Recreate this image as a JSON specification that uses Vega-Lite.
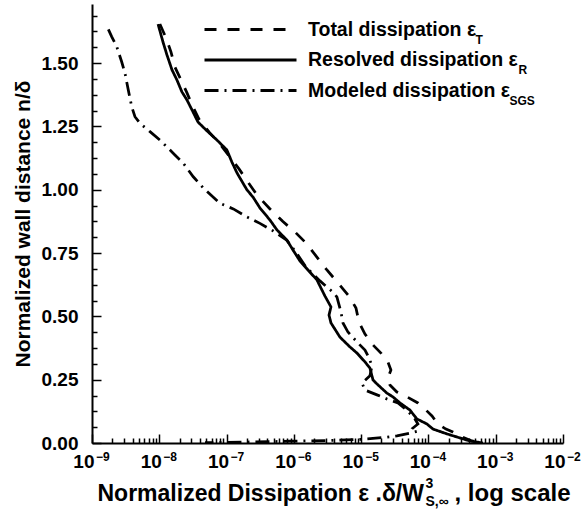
{
  "$schema": "https://vega.github.io/schema/vega-lite/v6.json",
  "width": 471,
  "height": 439,
  "autosize": "none",
  "padding": {"left": 92, "top": 4, "right": 20, "bottom": 67},
  "background": "white",
  "config": {
    "view": {"stroke": null},
    "font": "Liberation Sans",
    "axis": {"domainColor": "black", "tickColor": "black", "labelColor": "black", "titleColor": "black", "grid": false},
    "legend": {"labelColor": "black"}
  },
  "resolve": {"axis": {"x": "independent", "y": "independent"}},
  "layer": [
    {
      "data": {"values": [
        {"s": "Resolved", "x": 9.57e-9, "y": 1.654},
        {"s": "Resolved", "x": 1.135e-8, "y": 1.583},
        {"s": "Resolved", "x": 1.30e-8, "y": 1.532},
        {"s": "Resolved", "x": 1.545e-8, "y": 1.473},
        {"s": "Resolved", "x": 1.83e-8, "y": 1.433},
        {"s": "Resolved", "x": 2.17e-8, "y": 1.386},
        {"s": "Resolved", "x": 2.58e-8, "y": 1.354},
        {"s": "Resolved", "x": 3.17e-8, "y": 1.307},
        {"s": "Resolved", "x": 3.76e-8, "y": 1.267},
        {"s": "Resolved", "x": 5.12e-8, "y": 1.232},
        {"s": "Resolved", "x": 7.19e-8, "y": 1.196},
        {"s": "Resolved", "x": 1.01e-7, "y": 1.157},
        {"s": "Resolved", "x": 1.20e-7, "y": 1.109},
        {"s": "Resolved", "x": 1.43e-7, "y": 1.066},
        {"s": "Resolved", "x": 2.01e-7, "y": 0.999},
        {"s": "Resolved", "x": 2.47e-7, "y": 0.971},
        {"s": "Resolved", "x": 3.13e-7, "y": 0.928},
        {"s": "Resolved", "x": 4.42e-7, "y": 0.880},
        {"s": "Resolved", "x": 5.61e-7, "y": 0.841},
        {"s": "Resolved", "x": 7.88e-7, "y": 0.801},
        {"s": "Resolved", "x": 9.70e-7, "y": 0.762},
        {"s": "Resolved", "x": 1.23e-6, "y": 0.719},
        {"s": "Resolved", "x": 1.62e-6, "y": 0.683},
        {"s": "Resolved", "x": 2.20e-6, "y": 0.644},
        {"s": "Resolved", "x": 2.90e-6, "y": 0.580},
        {"s": "Resolved", "x": 3.56e-6, "y": 0.537},
        {"s": "Resolved", "x": 3.33e-6, "y": 0.505},
        {"s": "Resolved", "x": 3.56e-6, "y": 0.474},
        {"s": "Resolved", "x": 4.84e-6, "y": 0.418},
        {"s": "Resolved", "x": 6.83e-6, "y": 0.379},
        {"s": "Resolved", "x": 8.67e-6, "y": 0.355},
        {"s": "Resolved", "x": 1.14e-5, "y": 0.320},
        {"s": "Resolved", "x": 1.35e-5, "y": 0.296},
        {"s": "Resolved", "x": 1.50e-5, "y": 0.249},
        {"s": "Resolved", "x": 1.72e-5, "y": 0.233},
        {"s": "Resolved", "x": 2.41e-5, "y": 0.197},
        {"s": "Resolved", "x": 2.97e-5, "y": 0.182},
        {"s": "Resolved", "x": 3.78e-5, "y": 0.158},
        {"s": "Resolved", "x": 5.31e-5, "y": 0.130},
        {"s": "Resolved", "x": 6.74e-5, "y": 0.095},
        {"s": "Resolved", "x": 9.51e-5, "y": 0.075},
        {"s": "Resolved", "x": 1.17e-4, "y": 0.055},
        {"s": "Resolved", "x": 1.88e-4, "y": 0.036},
        {"s": "Resolved", "x": 2.94e-4, "y": 0.020},
        {"s": "Resolved", "x": 4.14e-4, "y": 0.008},
        {"s": "Resolved", "x": 6.46e-4, "y": 0.0},
        {"s": "Total", "x": 1.02e-8, "y": 1.654},
        {"s": "Total", "x": 1.26e-8, "y": 1.599},
        {"s": "Total", "x": 1.49e-8, "y": 1.544},
        {"s": "Total", "x": 1.71e-8, "y": 1.484},
        {"s": "Total", "x": 2.10e-8, "y": 1.433},
        {"s": "Total", "x": 2.58e-8, "y": 1.382},
        {"s": "Total", "x": 3.17e-8, "y": 1.326},
        {"s": "Total", "x": 3.89e-8, "y": 1.279},
        {"s": "Total", "x": 5.47e-8, "y": 1.228},
        {"s": "Total", "x": 7.98e-8, "y": 1.180},
        {"s": "Total", "x": 1.12e-7, "y": 1.129},
        {"s": "Total", "x": 1.53e-7, "y": 1.082},
        {"s": "Total", "x": 2.08e-7, "y": 1.030},
        {"s": "Total", "x": 2.83e-7, "y": 0.979},
        {"s": "Total", "x": 4.42e-7, "y": 0.924},
        {"s": "Total", "x": 6.88e-7, "y": 0.874},
        {"s": "Total", "x": 1.04e-6, "y": 0.833},
        {"s": "Total", "x": 1.51e-6, "y": 0.790},
        {"s": "Total", "x": 2.20e-6, "y": 0.734},
        {"s": "Total", "x": 3.10e-6, "y": 0.683},
        {"s": "Total", "x": 4.52e-6, "y": 0.632},
        {"s": "Total", "x": 6.59e-6, "y": 0.580},
        {"s": "Total", "x": 8.38e-6, "y": 0.533},
        {"s": "Total", "x": 9.27e-6, "y": 0.478},
        {"s": "Total", "x": 1.14e-5, "y": 0.430},
        {"s": "Total", "x": 1.50e-5, "y": 0.387},
        {"s": "Total", "x": 1.97e-5, "y": 0.355},
        {"s": "Total", "x": 2.50e-5, "y": 0.320},
        {"s": "Total", "x": 2.77e-5, "y": 0.288},
        {"s": "Total", "x": 2.50e-5, "y": 0.257},
        {"s": "Total", "x": 2.68e-5, "y": 0.229},
        {"s": "Total", "x": 3.40e-5, "y": 0.201},
        {"s": "Total", "x": 4.80e-5, "y": 0.182},
        {"s": "Total", "x": 6.98e-5, "y": 0.158},
        {"s": "Total", "x": 8.87e-5, "y": 0.134},
        {"s": "Total", "x": 1.13e-4, "y": 0.107},
        {"s": "Total", "x": 1.38e-4, "y": 0.075},
        {"s": "Total", "x": 1.82e-4, "y": 0.055},
        {"s": "Total", "x": 2.31e-4, "y": 0.043},
        {"s": "Total", "x": 3.15e-4, "y": 0.024},
        {"s": "Total", "x": 4.42e-4, "y": 0.008},
        {"s": "Total", "x": 6.68e-4, "y": 0.0},
        {"s": "Modeled", "x": 1.75e-9, "y": 1.633},
        {"s": "Modeled", "x": 1.96e-9, "y": 1.604},
        {"s": "Modeled", "x": 2.33e-9, "y": 1.565},
        {"s": "Modeled", "x": 2.76e-9, "y": 1.505},
        {"s": "Modeled", "x": 3.09e-9, "y": 1.460},
        {"s": "Modeled", "x": 3.46e-9, "y": 1.394},
        {"s": "Modeled", "x": 3.89e-9, "y": 1.328},
        {"s": "Modeled", "x": 4.35e-9, "y": 1.288},
        {"s": "Modeled", "x": 5.16e-9, "y": 1.262},
        {"s": "Modeled", "x": 7.28e-9, "y": 1.229},
        {"s": "Modeled", "x": 1.02e-8, "y": 1.196},
        {"s": "Modeled", "x": 1.61e-8, "y": 1.144},
        {"s": "Modeled", "x": 2.28e-8, "y": 1.104},
        {"s": "Modeled", "x": 3.20e-8, "y": 1.051},
        {"s": "Modeled", "x": 4.51e-8, "y": 1.007},
        {"s": "Modeled", "x": 7.98e-8, "y": 0.946},
        {"s": "Modeled", "x": 1.26e-7, "y": 0.924},
        {"s": "Modeled", "x": 1.99e-7, "y": 0.893},
        {"s": "Modeled", "x": 3.13e-7, "y": 0.867},
        {"s": "Modeled", "x": 4.94e-7, "y": 0.837},
        {"s": "Modeled", "x": 7.81e-7, "y": 0.801},
        {"s": "Modeled", "x": 1.07e-6, "y": 0.754},
        {"s": "Modeled", "x": 1.51e-6, "y": 0.695},
        {"s": "Modeled", "x": 2.44e-6, "y": 0.640},
        {"s": "Modeled", "x": 3.94e-6, "y": 0.592},
        {"s": "Modeled", "x": 4.37e-6, "y": 0.576},
        {"s": "Modeled", "x": 5.01e-6, "y": 0.517},
        {"s": "Modeled", "x": 5.37e-6, "y": 0.474},
        {"s": "Modeled", "x": 6.37e-6, "y": 0.438},
        {"s": "Modeled", "x": 8.95e-6, "y": 0.395},
        {"s": "Modeled", "x": 1.14e-5, "y": 0.367},
        {"s": "Modeled", "x": 1.31e-5, "y": 0.336},
        {"s": "Modeled", "x": 1.45e-5, "y": 0.304},
        {"s": "Modeled", "x": 1.35e-5, "y": 0.265},
        {"s": "Modeled", "x": 1.03e-5, "y": 0.237},
        {"s": "Modeled", "x": 1.14e-5, "y": 0.209},
        {"s": "Modeled", "x": 1.72e-5, "y": 0.190},
        {"s": "Modeled", "x": 2.41e-5, "y": 0.174},
        {"s": "Modeled", "x": 3.53e-5, "y": 0.158},
        {"s": "Modeled", "x": 4.95e-5, "y": 0.126},
        {"s": "Modeled", "x": 6.30e-5, "y": 0.095},
        {"s": "Modeled", "x": 6.98e-5, "y": 0.075},
        {"s": "Modeled", "x": 5.89e-5, "y": 0.059},
        {"s": "Modeled", "x": 6.98e-5, "y": 0.047},
        {"s": "Modeled", "x": 5.31e-5, "y": 0.039},
        {"s": "Modeled", "x": 3.40e-5, "y": 0.028},
        {"s": "Modeled", "x": 2.26e-5, "y": 0.022},
        {"s": "Modeled", "x": 1.50e-5, "y": 0.018},
        {"s": "Modeled", "x": 9.6e-6, "y": 0.014},
        {"s": "Modeled", "x": 3.44e-6, "y": 0.010},
        {"s": "Modeled", "x": 8.75e-7, "y": 0.007},
        {"s": "Modeled", "x": 2.23e-7, "y": 0.004},
        {"s": "Modeled", "x": 4.78e-8, "y": 0.0015}
      ]},
      "mark": {"type": "line", "color": "black", "strokeWidth": 2.75, "clip": true},
      "encoding": {
        "x": {
          "field": "x", "type": "quantitative",
          "scale": {"type": "log", "domain": [1e-9, 1e-2], "nice": false},
          "axis": {
            "orient": "bottom",
            "values": [1e-9, 1e-8, 1e-7, 1e-6, 1e-5, 1e-4, 1e-3, 1e-2],
            "labelExpr": "'10'",
            "labelAlign": "right", "labelOffset": 2, "labelBaseline": "top",
            "labelFontSize": 19, "labelFontWeight": "bold", "labelPadding": 18,
            "labelFlush": false, "labelOverlap": false,
            "tickSize": -9, "tickWidth": 1.5, "domainWidth": 2,
            "title": "Normalized Dissipation ε .δ/W",
            "titleFontSize": 23, "titleFontWeight": "bold",
            "titleAlign": "left", "titleAnchor": "start", "titleBaseline": "alphabetic",
            "titleX": 5, "titleY": 57
          }
        },
        "y": {
          "field": "y", "type": "quantitative",
          "scale": {"domain": [0, 1.733], "nice": false, "zero": false},
          "axis": {
            "orient": "left",
            "values": [0, 0.25, 0.5, 0.75, 1, 1.25, 1.5],
            "format": ".2f",
            "labelFontSize": 19, "labelFontWeight": "bold", "labelPadding": 23,
            "labelFlush": false, "labelOverlap": false,
            "tickSize": -9, "tickWidth": 1.5, "domainWidth": 2,
            "title": "Normalized wall distance n/δ",
            "titleFontSize": 21, "titleFontWeight": "bold",
            "titleBaseline": "middle", "titleX": -69
          }
        },
        "strokeDash": {
          "field": "s", "type": "nominal",
          "scale": {"domain": ["Total", "Resolved", "Modeled"], "range": [[12, 11], [1, 0], [14, 6, 2, 6]]},
          "legend": {
            "orient": "none", "legendX": 145.5, "legendY": 12.5,
            "title": null, "padding": 0,
            "symbolType": "M-4,0H4", "symbolSize": 529, "symbolStrokeWidth": 3,
            "symbolStrokeColor": "black", "symbolFillColor": "transparent",
            "labelOffset": 44.5, "labelFontSize": 19.5, "labelFontWeight": "bold", "labelLimit": 400,
            "rowPadding": 7.5,
            "labelExpr": "datum.label == 'Total' ? 'Total dissipation ε' : datum.label == 'Resolved' ? 'Resolved dissipation ε' : 'Modeled dissipation ε'"
          }
        },
        "order": {"field": "y", "sort": "descending"}
      }
    },
    {
      "data": {"values": []},
      "mark": {"type": "point"},
      "encoding": {
        "x": {
          "field": "x", "type": "quantitative",
          "axis": {
            "orient": "bottom",
            "values": [1e-9, 1e-8, 1e-7, 1e-6, 1e-5, 1e-4, 1e-3, 1e-2],
            "labelExpr": "'−' + round(-log(datum.value) / LN10)",
            "labelAlign": "left", "labelOffset": 3.5, "labelBaseline": "top",
            "labelFontSize": 12, "labelFontWeight": "bold", "labelPadding": 8,
            "labelFlush": false, "labelOverlap": false,
            "ticks": false, "domain": false,
            "title": "3", "titleFontSize": 14, "titleFontWeight": "bold",
            "titleAlign": "left", "titleAnchor": "start", "titleBaseline": "alphabetic",
            "titleX": 333, "titleY": 44
          }
        },
        "y": {
          "field": "y", "type": "quantitative",
          "axis": {
            "orient": "left",
            "values": [0.0625, 0.125, 0.1875, 0.3125, 0.375, 0.4375, 0.5625, 0.625, 0.6875, 0.8125, 0.875, 0.9375, 1.0625, 1.125, 1.1875, 1.3125, 1.375, 1.4375, 1.5625, 1.625, 1.6875],
            "labels": false, "tickSize": -5, "tickWidth": 1.5, "domain": false, "title": null
          }
        },
        "color": {
          "field": "s", "type": "nominal",
          "scale": {"domain": ["T"], "range": ["black"]},
          "legend": {
            "orient": "none", "legendX": 314, "legendY": 23,
            "title": null, "padding": 0,
            "symbolType": "M-4,0H4", "symbolSize": 529, "symbolOpacity": 0,
            "labelOffset": 44.5, "labelFontSize": 12, "labelFontWeight": "bold", "labelLimit": 400
          }
        },
        "fill": {
          "field": "s", "type": "nominal",
          "scale": {"domain": ["R"], "range": ["black"]},
          "legend": {
            "orient": "none", "legendX": 357, "legendY": 53.5,
            "title": null, "padding": 0,
            "symbolType": "M-4,0H4", "symbolSize": 529, "symbolOpacity": 0,
            "labelOffset": 44.5, "labelFontSize": 12, "labelFontWeight": "bold", "labelLimit": 400
          }
        },
        "shape": {
          "field": "s", "type": "nominal",
          "scale": {"domain": ["SGS"], "range": ["circle"]},
          "legend": {
            "orient": "none", "legendX": 348, "legendY": 84,
            "title": null, "padding": 0,
            "symbolType": "M-4,0H4", "symbolSize": 529, "symbolOpacity": 0,
            "labelOffset": 44.5, "labelFontSize": 12, "labelFontWeight": "bold", "labelLimit": 400
          }
        }
      }
    },
    {
      "data": {"values": []},
      "mark": {"type": "point"},
      "encoding": {
        "x": {
          "field": "x", "type": "quantitative",
          "axis": {
            "orient": "bottom",
            "values": [2e-9, 3e-9, 4e-9, 5e-9, 6e-9, 7e-9, 8e-9, 9e-9, 2e-8, 3e-8, 4e-8, 5e-8, 6e-8, 7e-8, 8e-8, 9e-8, 2e-7, 3e-7, 4e-7, 5e-7, 6e-7, 7e-7, 8e-7, 9e-7, 2e-6, 3e-6, 4e-6, 5e-6, 6e-6, 7e-6, 8e-6, 9e-6, 2e-5, 3e-5, 4e-5, 5e-5, 6e-5, 7e-5, 8e-5, 9e-5, 2e-4, 3e-4, 4e-4, 5e-4, 6e-4, 7e-4, 8e-4, 9e-4, 2e-3, 3e-3, 4e-3, 5e-3, 6e-3, 7e-3, 8e-3, 9e-3],
            "labels": false, "tickSize": -5, "tickWidth": 1.5, "domain": false,
            "title": "S,∞", "titleFontSize": 14, "titleFontWeight": "bold",
            "titleAlign": "left", "titleAnchor": "start", "titleBaseline": "alphabetic",
            "titleX": 333, "titleY": 62
          }
        },
        "y": {"field": "y", "type": "quantitative", "axis": null}
      }
    },
    {
      "data": {"values": []},
      "mark": {"type": "point"},
      "encoding": {
        "x": {
          "field": "x", "type": "quantitative",
          "axis": {
            "orient": "bottom",
            "labels": false, "ticks": false, "domain": false,
            "title": ", log scale", "titleFontSize": 24, "titleFontWeight": "bold",
            "titleAlign": "left", "titleAnchor": "start", "titleBaseline": "alphabetic",
            "titleX": 362, "titleY": 57
          }
        },
        "y": {"field": "y", "type": "quantitative", "axis": null}
      }
    }
  ]
}
